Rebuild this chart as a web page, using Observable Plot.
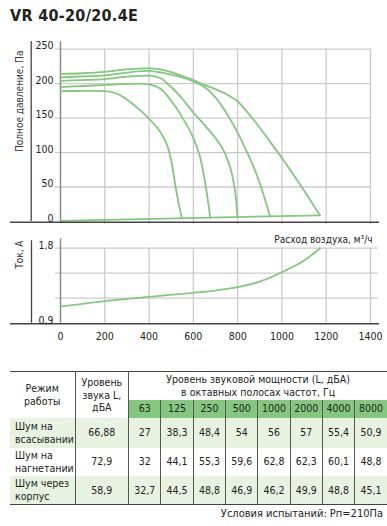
<!DOCTYPE html>
<html><head><meta charset="utf-8">
<script src="https://cdn.jsdelivr.net/npm/d3@7"></script>
<script src="https://cdn.jsdelivr.net/npm/@observablehq/plot@0.6"></script>
<style>
body{margin:0;background:#fff;}
#root{position:relative;width:387px;height:526px;font-family:"Liberation Sans Narrow","DejaVu Sans Condensed","Arial Narrow",sans-serif;color:#222;overflow:hidden}
#title{position:absolute;left:10px;top:6px;font-size:16px;font-weight:bold;color:#222;letter-spacing:0.3px}
.chart{position:absolute;left:0}
table{position:absolute;left:10px;top:371px;width:377px;border-collapse:collapse;table-layout:fixed;font-size:10.5px;color:#222}
table td, table th{padding:0;text-align:center;font-weight:normal;line-height:12.5px}
table tr.h1{height:28px}
table tr.h1 th{border-top:1.5px solid #444}
table th.c1, table th.c2{border-right:1px solid #555;vertical-align:middle}
table tr.freq{height:18px;background:#84c77e}
table tr.freq td{border-right:1px solid #555}
table tr.freq td:last-child{border-right:none}
table tr.data td{border-right:1px solid #555}
table tr.data td:last-child{border-right:none}
table tr.data td.lab{text-align:left;padding-left:5px}
table tr.shade{background:#e7f2e1}
table tr.last td{border-bottom:1.5px solid #444}
#caption{position:absolute;right:4px;top:507px;font-size:11px;color:#222}
</style></head><body><div id="root"><div id="title">VR 40-20/20.4E</div></div>
<script>
// ---- data ----
const flowTicks = [0, 200, 400, 600, 800, 1000, 1200, 1400];
const pressureTicks = [0, 50, 100, 150, 200, 250];
const currentGrid = [0.9, 1.2, 1.5, 1.8];
const currentTicks = [0.9, 1.8];

const curve1Q = [0, 100, 200, 250, 300, 350, 400, 450, 480, 500, 520, 535, 548];
const curve1P = [189, 189.3, 189, 186, 177, 164, 149, 130, 112, 88, 50, 24, 4.5];
const curve2Q = [0, 100, 200, 300, 400, 450, 500, 550, 600, 630, 650, 665, 676];
const curve2P = [195, 196.5, 198, 199.5, 199, 193, 175, 151, 121, 94, 62, 32, 5.4];
const curve3Q = [0, 100, 200, 300, 400, 450, 500, 550, 600, 650, 700, 730, 760, 780, 792, 799];
const curve3P = [204, 205, 206.5, 210, 211.5, 208, 195, 178, 158, 140, 121, 107, 85, 60, 35, 6.3];
const curve4Q = [0, 100, 200, 300, 400, 500, 550, 600, 650, 700, 750, 800, 850, 880, 910, 930, 946];
const curve4P = [209, 210.5, 212, 216, 218.5, 213, 209, 203, 195, 180, 157, 129, 95, 73, 46, 25, 7.4];
const curve5Q = [0, 100, 200, 300, 400, 450, 500, 550, 600, 650, 700, 750, 800, 850, 900, 950, 1000, 1050, 1100, 1140, 1171];
const curve5P = [214, 215, 217, 220.5, 222, 220.5, 216.5, 211, 205, 198, 192, 184.5, 174, 156, 136, 114, 92, 69, 45, 25, 9];
const zeroLineQ = [0, 1171];
const zeroLineP = [1, 9];

const currentQ = [0, 200, 400, 600, 700, 800, 900, 1000, 1100, 1172];
const currentI = [1.10, 1.165, 1.217, 1.265, 1.292, 1.332, 1.40, 1.512, 1.652, 1.8];

const pressureLabel = "Полное давление, Па";
const currentLabel = "Ток, А";
const flowLabel = "Расход воздуха, м³/ч";

const modes = [["Шум на", "всасывании"], ["Шум на", "нагнетании"], ["Шум через", "корпус"]];
const soundLevel = ["66,88", "72,9", "58,9"];
const freqs = ["63", "125", "250", "500", "1000", "2000", "4000", "8000"];
const bandsSuction = ["27", "38,3", "48,4", "54", "56", "57", "55,4", "50,9"];
const bandsDischarge = ["32", "44,1", "55,3", "59,6", "62,8", "62,3", "60,1", "48,8"];
const bandsCasing = ["32,7", "44,5", "48,8", "46,9", "46,2", "49,9", "48,8", "45,1"];
const caption = "Условия испытаний: Рп=210Па";

// ---- build ----
const FONT = '"Liberation Sans Narrow","DejaVu Sans Condensed","Arial Narrow",sans-serif';
const green = "#84c77e";
const gridColor = "#cbcbcb";
const root = document.getElementById("root");

const curves = [[curve1Q, curve1P], [curve2Q, curve2P], [curve3Q, curve3P], [curve4Q, curve4P], [curve5Q, curve5P]];
const pressureRows = [];
curves.forEach(([qs, ps], i) => qs.forEach((q, j) => pressureRows.push({curve: i, q, p: ps[j]})));
const zeroRows = zeroLineQ.map((q, j) => ({q, p: zeroLineP[j]}));
const currentRows = currentQ.map((q, j) => ({q, i: currentI[j]}));

const topChart = Plot.plot({
  width: 387, height: 190, marginLeft: 60, marginRight: 17, marginTop: 8.6, marginBottom: 9,
  x: {domain: [0, 1400], axis: null},
  y: {domain: [0, 250], axis: null},
  style: {fontFamily: FONT, fontSize: "10.5px", color: "#222", background: "transparent", overflow: "visible"},
  marks: [
    Plot.gridY(pressureTicks.filter(d => d > 0), {stroke: gridColor, strokeOpacity: 1, strokeWidth: 1.3, insetLeft: -5}),
    Plot.gridX(flowTicks.filter(d => d > 0), {stroke: gridColor, strokeOpacity: 1, strokeWidth: 1.3, insetBottom: -3}),
    Plot.ruleX([0], {stroke: "#8a8a8a", strokeWidth: 1.5, insetTop: -7.5}),
    Plot.ruleX([0], {stroke: "#444", strokeWidth: 1.3, insetTop: -7.5, dx: -29.3}),
    Plot.line(zeroRows, {x: "q", y: "p", stroke: green, strokeWidth: 1.8}),
    Plot.line(pressureRows, {x: "q", y: "p", z: "curve", stroke: green, strokeWidth: 1.8, curve: "catmull-rom"}),
    Plot.ruleY([0], {stroke: "#444", strokeWidth: 1.5, insetLeft: -50, insetRight: -9, dy: 0.7}),
    Plot.axisY(pressureTicks, {tickSize: 0, tickPadding: 7, dy: -3, label: null, fill: "#222"}),
    Plot.text([pressureLabel], {frameAnchor: "top-left", rotate: -90, textAnchor: "end", dx: -45, dy: 1.5, fill: "#333", fontSize: 10})
  ]
});
topChart.classList.add("chart");
topChart.style.top = "40px";
root.appendChild(topChart);

const bottomChart = Plot.plot({
  width: 387, height: 122, marginLeft: 60, marginRight: 17, marginTop: 17.7, marginBottom: 29.3,
  x: {domain: [0, 1400]},
  y: {domain: [0.9, 1.8]},
  style: {fontFamily: FONT, fontSize: "10.5px", color: "#222", background: "transparent", overflow: "visible"},
  marks: [
    Plot.gridY(currentGrid.filter(d => d > 0.9), {stroke: gridColor, strokeOpacity: 1, strokeWidth: 1.3, insetLeft: -5, insetRight: -8}),
    Plot.gridX(flowTicks.filter(d => d > 0), {stroke: gridColor, strokeOpacity: 1, strokeWidth: 1.3}),
    Plot.ruleX([0], {stroke: "#8a8a8a", strokeWidth: 1.5, insetTop: -9.5}),
    Plot.ruleX([0], {stroke: "#444", strokeWidth: 1.3, insetTop: -7.5, dx: -29}),
    Plot.line(currentRows, {x: "q", y: "i", stroke: green, strokeWidth: 1.8, curve: "catmull-rom"}),
    Plot.ruleY([0.9], {stroke: "#444", strokeWidth: 1.5, insetLeft: -50, insetRight: -9, dy: 0.6}),
    Plot.axisY(currentTicks, {tickSize: 0, tickPadding: 7, dy: -3, label: null, fill: "#222", tickFormat: d => d.toFixed(1).replace(".", ",")}),
    Plot.axisX(flowTicks, {tickSize: 0, tickPadding: 9, label: null, fill: "#222", tickFormat: d => String(d)}),
    Plot.text([currentLabel], {frameAnchor: "top-left", rotate: -90, textAnchor: "end", dx: -45, dy: -7.7, fill: "#333", fontSize: 10}),
    Plot.text([flowLabel], {frameAnchor: "top-right", textAnchor: "end", dx: 2, dy: -12.7, fill: "#222", fontSize: 10})
  ]
});
bottomChart.classList.add("chart");
bottomChart.style.top = "230px";
root.appendChild(bottomChart);

// table
const table = document.createElement("table");
const colgroup = document.createElement("colgroup");
[65, 53.7].concat(freqs.map(() => 32.29)).forEach(w => {
  const c = document.createElement("col"); c.style.width = w + "px"; colgroup.appendChild(c);
});
table.appendChild(colgroup);
let html = `<tr class="h1"><th rowspan="2" class="c1">Режим<br>работы</th><th rowspan="2" class="c2">Уровень<br>звука L,<br>дБА</th><th colspan="8">Уровень звуковой мощности (L, дБА)<br>в октавных полосах частот, Гц</th></tr>`;
html += `<tr class="freq">` + freqs.map(f => `<td>${f}</td>`).join("") + `</tr>`;
const bands = [bandsSuction, bandsDischarge, bandsCasing];
const rowH = [30, 28, 29];
modes.forEach((m, r) => {
  const cls = ["data", r % 2 === 0 ? "shade" : "", r === 2 ? "last" : ""].join(" ");
  html += `<tr class="${cls}" style="height:${rowH[r]}px"><td class="lab">${m.join("<br>")}</td><td>${soundLevel[r]}</td>` +
    bands[r].map(v => `<td>${v}</td>`).join("") + `</tr>`;
});
table.innerHTML += html;
root.appendChild(table);

const cap = document.createElement("div");
cap.id = "caption";
cap.textContent = caption;
root.appendChild(cap);
</script></body></html>
